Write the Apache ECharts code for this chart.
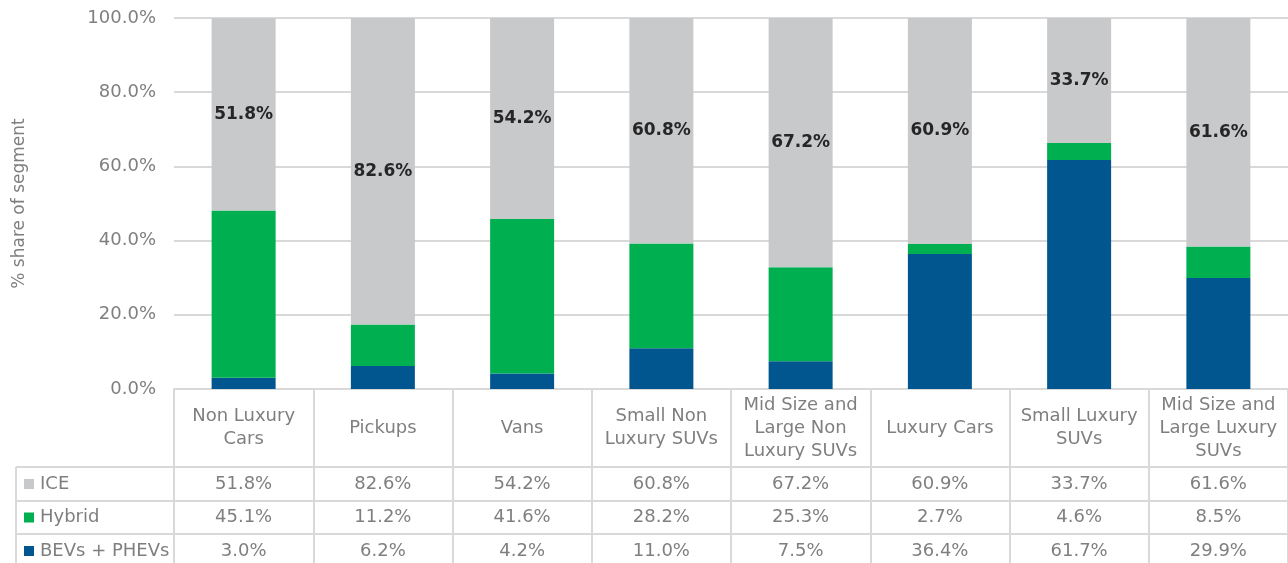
<!DOCTYPE html>
<html>
<head>
<meta charset="utf-8">
<script src="https://cdn.jsdelivr.net/npm/echarts@6/dist/echarts.min.js"></script>
<style>
  html, body { margin: 0; padding: 0; background: #fff; }
  #main { width: 1288px; height: 563px; }
</style>
</head>
<body>
<div id="main"></div>
<script>
// data
var categories = ['Non Luxury\nCars', 'Pickups', 'Vans', 'Small Non\nLuxury SUVs',
  'Mid Size and\nLarge Non\nLuxury SUVs', 'Luxury Cars', 'Small Luxury\nSUVs',
  'Mid Size and\nLarge Luxury\nSUVs'];
var bevs = [3.0, 6.2, 4.2, 11.0, 7.5, 36.4, 61.7, 29.9];
var hybrid = [45.1, 11.2, 41.6, 28.2, 25.3, 2.7, 4.6, 8.5];
var ice = [51.8, 82.6, 54.2, 60.8, 67.2, 60.9, 33.7, 61.6];
var yTicks = [0, 20, 40, 60, 80, 100];

var FONT = 'DejaVu Sans';
var GREY_TEXT = '#7f7f7f';
var LINE = '#d9d9d9';
var colors = { ice: '#c8c9cb', hybrid: '#00b050', bevs: '#02568f' };

var myChart = echarts.init(document.getElementById('main'));

var option = {
  animation: false,
  grid: { left: 174, right: 0, top: 18, bottom: 174 },
  xAxis: {
    type: 'category',
    data: categories,
    axisLine: { lineStyle: { color: LINE, width: 2 } },
    axisTick: { show: true, length: 174, lineStyle: { color: LINE, width: 2 } },
    axisLabel: {
      interval: 0, color: GREY_TEXT, fontFamily: FONT, fontSize: 18,
      lineHeight: 23, margin: 39, verticalAlign: 'middle'
    }
  },
  yAxis: {
    type: 'value',
    min: 0, max: 100, interval: 20,
    name: '% share of segment',
    nameLocation: 'middle',
    nameGap: 146,
    nameTextStyle: { color: GREY_TEXT, fontFamily: FONT, fontSize: 17 },
    axisLine: { show: false },
    axisTick: { show: false },
    splitLine: { lineStyle: { color: LINE, width: 2 } },
    axisLabel: {
      color: GREY_TEXT, fontFamily: FONT, fontSize: 18, margin: 18,
      formatter: function (v) { return yTicks.indexOf(v) >= 0 ? v.toFixed(1) + '%' : ''; }
    }
  },
  series: [
    { name: 'BEVs + PHEVs', type: 'bar', stack: 's', data: bevs, barWidth: 64,
      itemStyle: { color: colors.bevs } },
    { name: 'Hybrid', type: 'bar', stack: 's', data: hybrid, barWidth: 64,
      itemStyle: { color: colors.hybrid } },
    { name: 'ICE', type: 'bar', stack: 's', data: ice, barWidth: 64,
      itemStyle: { color: colors.ice },
      label: {
        show: true, position: 'inside', color: '#262626', fontFamily: FONT,
        fontSize: 17, fontWeight: 'bold',
        formatter: function (p) { return p.value.toFixed(1) + '%'; }
      } }
  ]
};
myChart.setOption(option);

// data table below the axis
var rows = [
  { name: 'ICE', values: ice, color: colors.ice },
  { name: 'Hybrid', values: hybrid, color: colors.hybrid },
  { name: 'BEVs + PHEVs', values: bevs, color: colors.bevs }
];
var rowTops = [467, 501, 534, 568];
var graphics = [];
rowTops.slice(0, 3).forEach(function (y) {
  graphics.push({ type: 'line', shape: { x1: 16, y1: y, x2: 1288, y2: y },
    style: { stroke: LINE, lineWidth: 2 } });
});
graphics.push({ type: 'line', shape: { x1: 16, y1: 467, x2: 16, y2: 563 },
  style: { stroke: LINE, lineWidth: 2 } });
rows.forEach(function (r, ri) {
  var cy = (rowTops[ri] + rowTops[ri + 1]) / 2;
  graphics.push({ type: 'rect', shape: { x: 24, y: cy - 5, width: 10, height: 10 },
    style: { fill: r.color } });
  graphics.push({ type: 'text', x: 40, y: cy,
    style: { text: r.name, fill: GREY_TEXT, font: '18px "' + FONT + '"', verticalAlign: 'middle' } });
  r.values.forEach(function (v, i) {
    var x = myChart.convertToPixel({ xAxisIndex: 0 }, i);
    graphics.push({ type: 'text', x: x, y: cy,
      style: { text: v.toFixed(1) + '%', fill: GREY_TEXT, font: '18px "' + FONT + '"',
        align: 'center', verticalAlign: 'middle' } });
  });
});
myChart.setOption({ graphic: graphics });
</script>
</body>
</html>
